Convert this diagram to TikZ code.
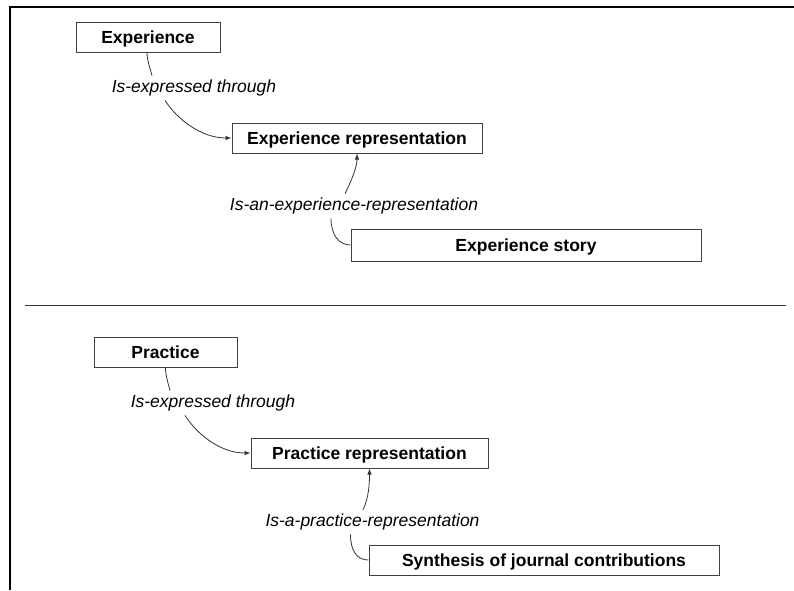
\documentclass[tikz,border=0pt]{standalone}
\usepackage{fontspec}
\setmainfont{Liberation Sans}
\usetikzlibrary{arrows.meta}

\begin{document}
\begin{tikzpicture}[x=1pt,y=-1pt,
	box/.style={draw=black!75, line width=1pt, fill=white, inner sep=0pt,
		text height=12.5pt, text depth=0pt,
		minimum height=30pt, font=\fontsize{17.5}{21}\selectfont\bfseries},
	rel/.style={inner sep=4pt, font=\fontsize{17.5}{21}\selectfont\itshape},
	link/.style={draw=black!80, line width=0.8pt},
	>={Latex[length=6pt,width=4.5pt]}]
\useasboundingbox (0,0) rectangle (794,590);
\draw[line width=2pt] (10,590) -- (10,7) -- (794,7);
\draw[line width=1pt, black!80] (25,305) -- (786,305);
\node[box, minimum width=144pt] (exp) at (148,37) {Experience};
\node[box, minimum width=250pt] (exprep) at (357,138) {Experience representation};
\node[box, minimum width=350pt, minimum height=32pt] (story) at (526,245) {Experience story};
\node[rel] (expthrough) at (194,88) {Is-expressed through};
\node[rel] (isexprep) at (354,206) {Is-an-experience-representation};
\node[box, minimum width=143pt] (prac) at (165.5,352) {Practice};
\node[box, minimum width=237pt] (pracrep) at (369.5,453) {Practice representation};
\node[box, minimum width=350pt] (synth) at (544,560) {Synthesis of journal contributions};
\node[rel] (practhrough) at (213,403) {Is-expressed through};
\node[rel] (ispracrep) at (372.5,522) {Is-a-practice-representation};
\draw[link] ([xshift=-1pt]exp.south) .. controls +(0,8) and +(-2,-8) .. ([xshift=-42pt]expthrough.north);
\draw[link, ->] ([xshift=-29pt]expthrough.south) .. controls +(12,19) and +(-30,0) .. (exprep.west);
\draw[link, ->] ([xshift=-9pt]isexprep.north) .. controls +(6,-12) and +(0,14) .. (exprep.south);
\draw[link] ([xshift=-23pt]isexprep.south) .. controls +(0,16) and +(-12,0) .. (story.west);
\draw[link] (prac.south) .. controls +(0,8) and +(-2,-8) .. ([xshift=-43pt]practhrough.north);
\draw[link, ->] ([xshift=-28pt]practhrough.south) .. controls +(12,19) and +(-30,0) .. (pracrep.west);
\draw[link, ->] ([xshift=-9.5pt]ispracrep.north) .. controls +(6,-12) and +(0,14) .. (pracrep.south);
\draw[link] ([xshift=-22pt]ispracrep.south) .. controls +(0,16) and +(-12,0) .. (synth.west);
\end{tikzpicture}
\end{document}
